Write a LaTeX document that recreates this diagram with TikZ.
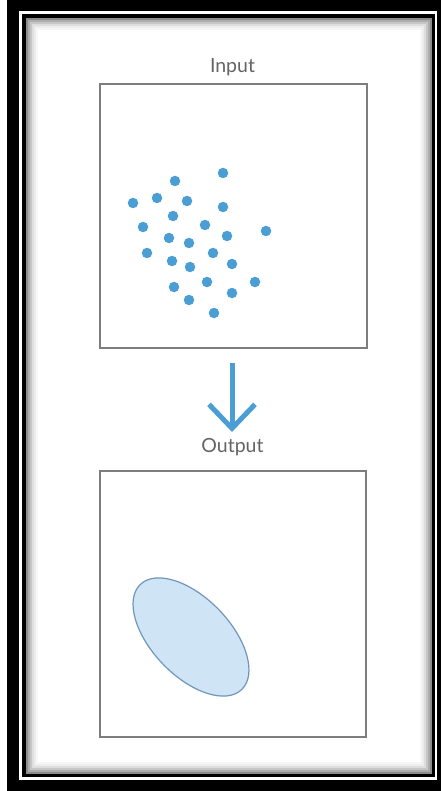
\documentclass[tikz,border=0pt]{standalone}
\usepackage{fontspec}
\setmainfont{Lato}
\usetikzlibrary{arrows.meta,shapes.geometric}

\definecolor{azul}{RGB}{74,158,212}
\definecolor{celeste}{RGB}{207,229,246}
\definecolor{borde}{RGB}{112,150,188}
\definecolor{gris}{RGB}{125,125,125}
\definecolor{texto}{RGB}{100,100,100}

\tikzstyle{caja}= [rectangle,draw=gris,line width=1.5,inner sep=0]
\tikzstyle{punto}= [circle,fill=azul,minimum size=10.5,inner sep=0]
\tikzstyle{titulo}= [text=texto,anchor=base,font=\fontsize{19.5}{22}\selectfont]
\tikzstyle{flecha}= [azul,line width=5,-{Straight Barb[length=24pt,width=46pt]}]
\tikzstyle{sombra}= [line width=2]

\begin{document}
\begin{tikzpicture}[x=1pt,y=-1pt]
		\useasboundingbox (0,0) rectangle (441,791);

		% marco
		\fill[black] (7,0) rectangle (441,791);
		\fill[white] (19,11) rectangle (437,780);
		\draw[black,line width=3.5] (24,16) rectangle (433.5,775.5);
		\fill[white] (26,18) rectangle (432,774);
		\draw[sombra,black!45] (27,19) rectangle (431,773);
		\draw[sombra,black!32] (29,21) rectangle (429,771);
		\draw[sombra,black!22] (31,23) rectangle (427,769);
		\draw[sombra,black!13] (33,25) rectangle (425,767);
		\draw[sombra,black!7] (35,27) rectangle (423,765);
		\draw[sombra,black!3] (37,29) rectangle (421,763);

		\node (te) at (232.5,72.5) [titulo] {Input};
		\node (entrada) at (233.5,216) [caja,minimum width=267,minimum height=264] {};

		\node (p1) at (223,173) [punto] {};
		\node (p2) at (175,181) [punto] {};
		\node (p3) at (133,203) [punto] {};
		\node (p4) at (157,198) [punto] {};
		\node (p5) at (187,201) [punto] {};
		\node (p6) at (223,207) [punto] {};
		\node (p7) at (173,216) [punto] {};
		\node (p8) at (143,227) [punto] {};
		\node (p9) at (205,225) [punto] {};
		\node (p10) at (266,231) [punto] {};
		\node (p11) at (169,238) [punto] {};
		\node (p12) at (189,243) [punto] {};
		\node (p13) at (227,236) [punto] {};
		\node (p14) at (147,253) [punto] {};
		\node (p15) at (213,253) [punto] {};
		\node (p16) at (172,261) [punto] {};
		\node (p17) at (190,267) [punto] {};
		\node (p18) at (232,264) [punto] {};
		\node (p19) at (174,287) [punto] {};
		\node (p20) at (207,282) [punto] {};
		\node (p21) at (255,282) [punto] {};
		\node (p22) at (232,293) [punto] {};
		\node (p23) at (189,300) [punto] {};
		\node (p24) at (214,313) [punto] {};

		\coordinate (f1) at (232,363);
		\coordinate (f2) at (232,432);
		\draw[flecha] (f1) -- (f2);

		\node (ts) at (232.5,452) [titulo] {Output};
		\node (salida) at (233,604) [caja,minimum width=266,minimum height=266] {};

		\node (elipse) at (191,637) [ellipse,draw=borde,fill=celeste,line width=1.2,minimum width=146,minimum height=78,rotate=-46] {};

	\end{tikzpicture}
\end{document}
